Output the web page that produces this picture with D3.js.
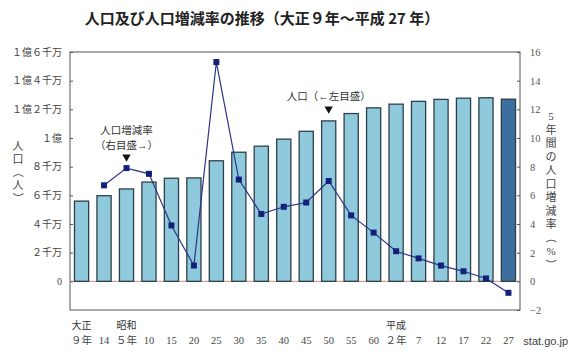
<!DOCTYPE html>
<html lang="ja">
<head>
<meta charset="utf-8">
<script src="https://cdn.jsdelivr.net/npm/d3@7"></script>
<style>
  body { margin: 0; background: #fff; }
  text { font-family: "Liberation Serif", "Noto Sans CJK JP", serif; fill: #333; }
</style>
</head>
<body>
<svg width="570" height="351"></svg>
<script>
// 年次 (上段は元号)
var eras   = ["大正", "", "昭和", "", "", "", "", "", "", "", "", "", "", "", "平成", "", "", "", "", ""];
var years  = ["９年", "14", "５年", "10", "15", "20", "25", "30", "35", "40", "45", "50", "55", "60", "２年", "7", "12", "17", "22", "27"];
// 人口 (百万人)
var pop    = [55.96, 59.74, 64.45, 69.25, 71.93, 72.15, 84.12, 90.08, 94.30, 99.21, 104.67, 111.94, 117.06, 121.05, 123.61, 125.57, 126.93, 127.77, 128.06, 127.09];
// 5年間の人口増減率 (%)
var rate   = [null, 6.7, 7.9, 7.5, 3.9, 1.1, 15.3, 7.1, 4.7, 5.2, 5.5, 7.0, 4.6, 3.4, 2.1, 1.6, 1.1, 0.7, 0.2, -0.8];
var leftTicks  = [0, 20, 40, 60, 80, 100, 120, 140, 160];
var leftLabels = ["0", "２千万", "４千万", "６千万", "８千万", "１億", "１億２千万", "１億４千万", "１億６千万"];
var rightTicks = [-2, 0, 2, 4, 6, 8, 10, 12, 14, 16];

var svg = d3.select("svg");
var x0 = 70, x1 = 520, yTop = 52, yBot = 310;

var x = d3.scaleBand().domain(d3.range(years.length)).range([x0, x1]).paddingInner(0.37).paddingOuter(0.2);
var yL = d3.scaleLinear().domain([-20, 160]).range([yBot, yTop]);
var yR = d3.scaleLinear().domain([-2, 16]).range([yBot, yTop]);

// タイトル
svg.append("text")
  .attr("x", 262).attr("y", 24)
  .attr("text-anchor", "middle")
  .style("font-family", "'Noto Sans CJK JP', sans-serif")
  .style("font-size", "15px").style("font-weight", "bold").style("fill", "#222")
  .text("人口及び人口増減率の推移（大正９年～平成 27 年）");

// 枠
svg.append("rect")
  .attr("x", x0).attr("y", yTop).attr("width", x1 - x0).attr("height", yBot - yTop)
  .attr("fill", "none").attr("stroke", "#555").attr("stroke-width", 1);

// ゼロ線
svg.append("line")
  .attr("x1", x0).attr("x2", x1).attr("y1", yL(0)).attr("y2", yL(0))
  .attr("stroke", "#d9a0a0").attr("stroke-width", 1.2);

// 左軸
var axL = svg.append("g").attr("transform", "translate(" + x0 + ",0)")
  .call(d3.axisRight(yL).tickValues(leftTicks).tickSize(3)
    .tickFormat(function (d, i) { return leftLabels[i]; }));
axL.select(".domain").remove();
axL.selectAll(".tick line").attr("stroke", "#555");
axL.selectAll(".tick text").attr("x", -8).attr("text-anchor", "end")
  .style("font-size", "10px").style("fill", "#444");

// 右軸
var axR = svg.append("g").attr("transform", "translate(" + x1 + ",0)")
  .call(d3.axisLeft(yR).tickValues(rightTicks).tickSize(3));
axR.select(".domain").remove();
axR.selectAll(".tick line").attr("stroke", "#555");
axR.selectAll(".tick text").attr("x", 10).attr("text-anchor", "start")
  .style("font-size", "10.5px").style("fill", "#555");

// 棒
svg.selectAll("rect.bar")
  .data(pop)
  .enter()
  .append("rect")
    .classed("bar", true)
    .attr("x", function (d, i) { return x(i); })
    .attr("width", x.bandwidth())
    .attr("y", function (d) { return yL(d); })
    .attr("height", function (d) { return yL(0) - yL(d); })
    .attr("fill", function (d, i) { return i === pop.length - 1 ? "#3a6fa0" : "#8fc9dc"; })
    .attr("stroke", "#2e3f48")
    .attr("stroke-width", 1.3);

// 折れ線
var pts = rate.map(function (d, i) { return { i: i, v: d }; }).filter(function (p) { return p.v !== null; });
var line = d3.line()
  .x(function (p) { return x(p.i) + x.bandwidth() / 2; })
  .y(function (p) { return yR(p.v); });
svg.append("path").datum(pts)
  .attr("d", line).attr("fill", "none")
  .attr("stroke", "#2a3585").attr("stroke-width", 1.2);
svg.selectAll("rect.pt")
  .data(pts)
  .enter()
  .append("rect")
    .classed("pt", true)
    .attr("x", function (p) { return x(p.i) + x.bandwidth() / 2 - 3; })
    .attr("y", function (p) { return yR(p.v) - 3; })
    .attr("width", 6).attr("height", 6)
    .attr("fill", "#14207a");

// X軸ラベル
svg.selectAll("text.era")
  .data(eras)
  .enter()
  .append("text")
    .classed("era", true)
    .attr("x", function (d, i) { return x(i) + x.bandwidth() / 2; })
    .attr("y", 329)
    .attr("text-anchor", "middle")
    .style("font-size", "10px").style("fill", "#333")
    .text(function (d) { return d; });
svg.selectAll("text.yr")
  .data(years)
  .enter()
  .append("text")
    .classed("yr", true)
    .attr("x", function (d, i) { return x(i) + x.bandwidth() / 2; })
    .attr("y", 344)
    .attr("text-anchor", "middle")
    .style("font-size", "10.5px").style("fill", "#444")
    .text(function (d) { return d; });

// 軸タイトル (縦書き)
function vertical(chars, cx, cy0, step) {
  svg.append("g").selectAll("text")
    .data(chars)
    .enter()
    .append("text")
      .attr("x", cx)
      .attr("y", function (d, i) { return cy0 + i * step; })
      .attr("text-anchor", "middle")
      .attr("transform", function (d, i) {
        return (d === "（" || d === "）") ? "rotate(90," + cx + "," + (cy0 + i * step - 4) + ")" : null;
      })
      .style("font-size", "11px").style("fill", "#444")
      .text(function (d) { return d; });
}
vertical(["人", "口", "（", "人", "）"], 18, 150, 13);
vertical(["5", "年", "間", "の", "人", "口", "増", "減", "率", "（", "%", "）"], 551, 120, 13.5);

// 注記
var rx = x(2) + x.bandwidth() / 2;
svg.append("text").attr("x", rx).attr("y", 134).attr("text-anchor", "middle")
  .style("font-size", "10.5px").style("fill", "#333").text("人口増減率");
svg.append("text").attr("x", rx).attr("y", 149).attr("text-anchor", "middle")
  .style("font-size", "10.5px").style("fill", "#333").text("（右目盛→）");
svg.append("path")
  .attr("d", d3.symbol().type(d3.symbolTriangle).size(30)())
  .attr("transform", "translate(" + rx + ",157) rotate(180)")
  .attr("fill", "#111");

var px = x(11) + x.bandwidth() / 2;
svg.append("text").attr("x", px).attr("y", 100).attr("text-anchor", "middle")
  .style("font-size", "10.5px").style("fill", "#333").text("人口（←左目盛）");
svg.append("path")
  .attr("d", d3.symbol().type(d3.symbolTriangle).size(30)())
  .attr("transform", "translate(" + px + ",109) rotate(180)")
  .attr("fill", "#111");

// 出典
svg.append("text").attr("x", 568).attr("y", 345).attr("text-anchor", "end")
  .style("font-family", "'Liberation Sans', Arial, sans-serif")
  .style("font-size", "11px").style("fill", "#444").text("stat.go.jp");
</script>
</body>
</html>
